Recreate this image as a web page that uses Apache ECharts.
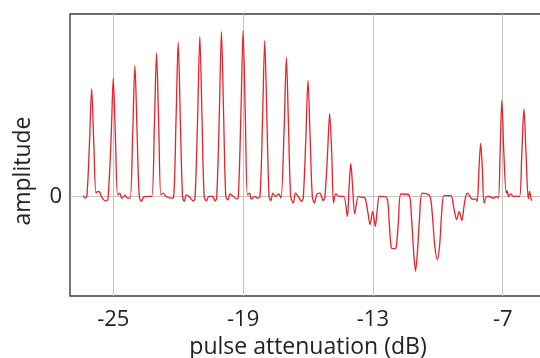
<!DOCTYPE html>
<html>
<head>
<meta charset="utf-8">
<script src="https://cdn.jsdelivr.net/npm/echarts@6/dist/echarts.min.js"></script>
<style>
  html, body { margin: 0; padding: 0; background: #fff; }
  #chart { width: 540px; height: 358px; }
</style>
</head>
<body>
<div id="chart"></div>
<script>
// tick values shown on the axes
const xTicks = [-25, -19, -13, -7];
const yTicks = [0];

// measured trace: [pulse attenuation (dB), amplitude]
const trace = [
  [-26.38, 0.005], [-26.3, -0.01], [-26.22, 0.0],
  [-26.1, 0.32], [-26.0, 0.65], [-25.9, 0.32], [-25.8, 0.02], [-25.72, 0.03], [-25.62, 0.025], [-25.55, 0.0], [-25.35, -0.027], [-25.25, -0.02],
  [-25.1, 0.35], [-25.0, 0.715], [-24.9, 0.35], [-24.8, 0.01], [-24.7, 0.02], [-24.6, -0.012], [-24.45, 0.008], [-24.35, -0.01], [-24.22, -0.01],
  [-24.1, 0.39], [-24.0, 0.79], [-23.9, 0.39], [-23.8, 0.0], [-23.7, -0.03], [-23.6, -0.005], [-23.4, 0.0], [-23.22, 0.0],
  [-23.1, 0.43], [-23.0, 0.865], [-22.9, 0.43], [-22.8, 0.01], [-22.7, 0.02], [-22.55, 0.0], [-22.35, -0.01], [-22.22, -0.008],
  [-22.1, 0.46], [-22.0, 0.93], [-21.9, 0.46], [-21.8, 0.0], [-21.72, -0.03], [-21.62, 0.01], [-21.5, 0.0], [-21.3, -0.027], [-21.22, -0.01],
  [-21.1, 0.48], [-21.0, 0.965], [-20.9, 0.48], [-20.8, 0.0], [-20.7, -0.027], [-20.58, 0.0], [-20.4, 0.0], [-20.3, -0.027], [-20.22, -0.01],
  [-20.1, 0.49], [-20.0, 0.995], [-19.9, 0.49], [-19.8, 0.0], [-19.7, -0.02], [-19.6, 0.015], [-19.45, 0.0], [-19.3, -0.015], [-19.22, -0.005],
  [-19.1, 0.5], [-19.0, 1.0], [-18.9, 0.5], [-18.8, 0.01], [-18.7, 0.02], [-18.62, -0.015], [-18.45, 0.0], [-18.35, -0.01], [-18.22, 0.0],
  [-18.1, 0.47], [-18.0, 0.94], [-17.9, 0.47], [-17.8, 0.0], [-17.72, -0.025], [-17.62, 0.02], [-17.5, 0.0], [-17.35, 0.015], [-17.25, -0.01],
  [-17.1, 0.42], [-17.0, 0.838], [-16.9, 0.42], [-16.8, 0.0], [-16.68, -0.04], [-16.58, 0.02], [-16.45, 0.0], [-16.3, -0.03], [-16.22, -0.01],
  [-16.1, 0.35], [-16.0, 0.7], [-15.9, 0.35], [-15.8, 0.0], [-15.7, -0.04], [-15.6, 0.01], [-15.45, 0.02], [-15.3, -0.025], [-15.22, -0.005],
  [-15.1, 0.25], [-15.0, 0.5], [-14.9, 0.25], [-14.82, -0.04], [-14.72, 0.015], [-14.55, 0.0], [-14.35, 0.0], [-14.18, -0.12],
  [-14.1, 0.06], [-14.02, 0.2], [-13.94, 0.06], [-13.84, -0.105], [-13.67, 0.0], [-13.5, -0.005], [-13.36, -0.01],
  [-13.24, -0.09], [-13.13, -0.17], [-13.01, -0.09], [-12.89, -0.18], [-12.8, -0.08], [-12.71, 0.0], [-12.61, 0.0],
  [-12.35, -0.01], [-12.25, -0.15], [-12.15, -0.31], [-12.04, -0.315], [-11.93, -0.31], [-11.82, -0.15], [-11.7, 0.015],
  [-11.34, 0.01], [-11.22, -0.12], [-11.12, -0.33], [-11.03, -0.45], [-10.94, -0.33], [-10.84, -0.12], [-10.72, 0.02],
  [-10.38, 0.005], [-10.26, -0.1], [-10.14, -0.3], [-10.02, -0.38], [-9.92, -0.3], [-9.82, -0.1], [-9.71, 0.005],
  [-9.4, 0.005], [-9.26, -0.07], [-9.13, -0.14], [-9.01, -0.09], [-8.89, -0.145], [-8.79, -0.06], [-8.71, 0.0], [-8.63, 0.02],
  [-8.4, -0.017], [-8.25, -0.015], [-8.18, -0.03], [-8.1, 0.16], [-8.02, 0.32], [-7.94, 0.16], [-7.86, -0.04], [-7.74, 0.0], [-7.65, 0.0],
  [-7.4, -0.01], [-7.3, 0.0], [-7.2, -0.01], [-7.12, 0.27], [-7.04, 0.58], [-6.95, 0.27], [-6.84, 0.02], [-6.8, 0.035], [-6.73, 0.0], [-6.63, 0.016], [-6.5, 0.0], [-6.35, 0.0], [-6.22, 0.0],
  [-6.12, 0.25], [-6.02, 0.53], [-5.92, 0.25], [-5.82, -0.015], [-5.76, 0.03], [-5.68, -0.02], [-5.65, -0.025]
];

const chart = echarts.init(document.getElementById("chart"), null, { renderer: "canvas" });
const font = "'Open Sans', 'Noto Sans', sans-serif";

chart.setOption({
  animation: false,
  grid: {
    left: 70,
    top: 14,
    right: -6,
    bottom: 62,
    outerBoundsMode: "none",
    show: true,
    borderColor: "#3c3c3c",
    borderWidth: 1.4,
  },
  xAxis: {
    type: "value",
    min: -27,
    max: -5,
    name: "pulse attenuation (dB)",
    nameLocation: "middle",
    nameGap: 40,
    nameTextStyle: { color: "#222", fontSize: 23, fontFamily: font },
    axisLine: { show: false },
    axisTick: { show: false, customValues: xTicks },
    axisLabel: {
      customValues: xTicks,
      color: "#222",
      fontSize: 22,
      fontFamily: font,
      margin: 13,
    },
    splitLine: { show: true, lineStyle: { color: "#c4c4c4", width: 1 } },
  },
  yAxis: {
    type: "value",
    min: -0.6,
    max: 1.1,
    name: "amplitude",
    nameLocation: "middle",
    nameGap: 35,
    nameTextStyle: { color: "#222", fontSize: 23, fontFamily: font, padding: [0, 32, 0, 0] },
    axisLine: { show: false },
    axisTick: { show: false, customValues: yTicks },
    axisLabel: {
      customValues: yTicks,
      color: "#222",
      fontSize: 22,
      fontFamily: font,
      margin: 8,
    },
    splitLine: { show: true, lineStyle: { color: "#c4c4c4", width: 1 } },
  },
  series: [
    {
      type: "line",
      data: trace,
      showSymbol: false,
      smooth: 0.3,
      lineStyle: { color: "#e8222a", width: 1.3 },
    },
  ],
});
</script>
</body>
</html>
